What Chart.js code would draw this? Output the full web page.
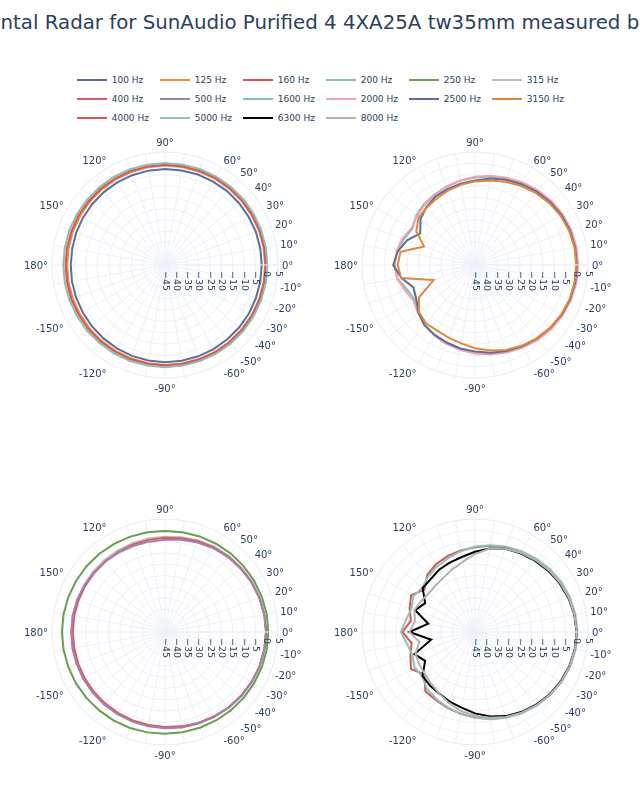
<!DOCTYPE html>
<html>
<head>
<meta charset="utf-8">
<script src="https://cdn.jsdelivr.net/npm/chart.js@4.4.1/dist/chart.umd.min.js"></script>
<style>
html,body{margin:0;padding:0;background:#fff;}
#page{position:relative;width:640px;height:800px;overflow:hidden;font-family:"DejaVu Sans",Verdana,sans-serif;color:#2a3f5f;}
#title{position:absolute;top:11px;left:0;white-space:nowrap;font-size:19.8px;line-height:normal;}
.leg{position:absolute;height:12px;width:80px;}
.leg .sw{position:absolute;left:0;top:5px;width:30px;height:2px;}
.leg .tx{position:absolute;left:35px;top:0;font-size:9px;line-height:12px;white-space:nowrap;}
canvas{position:absolute;}
</style>
</head>
<body>
<div id="page">
  <div id="title"></div>
  <div id="legend"></div>
  <canvas id="c0" width="300" height="300"></canvas>
  <canvas id="c1" width="300" height="300"></canvas>
  <canvas id="c2" width="300" height="300"></canvas>
  <canvas id="c3" width="300" height="300"></canvas>
</div>
<script>
// ---------------- data ----------------
const TITLE = 'Horizontal Radar for SunAudio Purified 4 4XA25A tw35mm measured by Misc';
const ANGLES = [0,10,20,30,40,50,60,70,80,90,100,110,120,130,140,150,160,170,180,
                -170,-160,-150,-140,-130,-120,-110,-100,-90,-80,-70,-60,-50,-40,-30,-20,-10];
const ANGLE_TICKS = [0,10,20,30,40,50,60,90,120,150,180,-150,-120,-90,-60,-50,-40,-30,-20,-10];
const RADIAL_MIN = -45;
const RADIAL_MAX = 5;
const RADIAL_STEP = 5;

const FREQS = ['100 Hz','125 Hz','160 Hz','200 Hz','250 Hz','315 Hz',
               '400 Hz','500 Hz','1600 Hz','2000 Hz','2500 Hz','3150 Hz',
               '4000 Hz','5000 Hz','6300 Hz','8000 Hz'];
const COLORS = ['#5a6ea3','#e8913a','#d6545a','#8fbcae','#6a9f4e','#bcbcbc',
                '#d65c66','#a77fa9','#7fc2b3','#f2a3b3','#5d6f97','#e0873a',
                '#d05858','#93c1b4','#000000','#b3b3b3'];

// top-left
const hz100 = [-2.2,-2.2,-2.2,-2.3,-2.3,-2.3,-2.4,-2.4,-2.5,-2.5,-2.6,-2.7,-2.8,-2.9,-3.0,-3.1,-3.2,-3.3,-3.3,
               -3.2,-3.1,-3.0,-2.8,-2.6,-2.4,-2.2,-2.1,-2.0,-2.0,-2.0,-2.0,-2.1,-2.1,-2.1,-2.2,-2.2];
const hz125 = [-0.7,-0.7,-0.7,-0.8,-0.8,-0.9,-0.9,-1.0,-1.0,-1.0,-1.1,-1.2,-1.3,-1.4,-1.5,-1.6,-1.6,-1.7,-1.7,
               -1.6,-1.6,-1.5,-1.4,-1.2,-1.1,-1.0,-0.9,-0.8,-0.8,-0.7,-0.7,-0.7,-0.7,-0.7,-0.7,-0.7];
const hz160 = [-0.4,-0.4,-0.4,-0.4,-0.5,-0.5,-0.5,-0.6,-0.6,-0.6,-0.7,-0.7,-0.8,-0.8,-0.9,-0.9,-1.0,-1.0,-1.0,
               -1.0,-0.9,-0.9,-0.8,-0.8,-0.7,-0.6,-0.6,-0.5,-0.5,-0.5,-0.4,-0.4,-0.4,-0.4,-0.4,-0.4];
const hz200 = [0.3,0.3,0.3,0.3,0.3,0.2,0.2,0.2,0.1,0.1,0.1,0.1,0.1,0.0,0.0,0.0,0.0,0.0,0.0,
               0.0,0.0,0.0,0.1,0.1,0.1,0.2,0.2,0.2,0.2,0.2,0.3,0.3,0.3,0.3,0.3,0.3];
// bottom-left
const hz250 = [0.7,0.7,0.6,0.5,0.4,0.3,0.1,0.0,-0.2,-0.3,-0.2,-0.1,0.0,0.2,0.3,0.4,0.5,0.6,0.6,
               0.6,0.5,0.5,0.4,0.3,0.3,0.2,0.1,0.0,0.0,0.1,0.2,0.3,0.4,0.5,0.6,0.7];
const hz315 = [-0.2,-0.2,-0.4,-0.6,-0.9,-1.1,-1.4,-1.9,-2.4,-2.8,-3.0,-3.2,-3.3,-3.4,-3.5,-3.6,-3.6,-3.6,-3.6,
               -3.6,-3.5,-3.4,-3.3,-3.2,-3.0,-2.9,-2.8,-2.6,-2.3,-1.9,-1.5,-1.1,-0.8,-0.6,-0.4,-0.2];
const hz400 = [-0.3,-0.4,-0.6,-0.8,-1.1,-1.4,-1.8,-2.3,-2.9,-3.3,-3.6,-3.8,-4.0,-4.1,-4.2,-4.2,-4.2,-4.2,-4.2,
               -4.2,-4.1,-4.0,-3.9,-3.8,-3.6,-3.4,-3.2,-3.0,-2.6,-2.2,-1.8,-1.4,-1.1,-0.8,-0.5,-0.4];
const hz500 = [-0.3,-0.4,-0.6,-0.9,-1.3,-1.7,-2.2,-2.9,-3.6,-4.2,-4.4,-4.4,-4.3,-4.1,-3.9,-3.8,-3.6,-3.5,-3.5,
               -3.4,-3.4,-3.3,-3.2,-3.1,-3.0,-2.8,-2.6,-2.4,-2.1,-1.9,-1.6,-1.3,-1.0,-0.7,-0.5,-0.4];
// top-right
const hz1600 = [0.3,0.3,0.0,-0.5,-1.2,-2.1,-3.1,-4.2,-5.2,-6.3,-7.2,-8.2,-9.0,-9.8,-11.0,-13.0,-11.5,-10.0,-9.3,
                -10.2,-13.0,-14.2,-12.5,-10.5,-9.0,-7.9,-7.0,-6.0,-5.0,-4.0,-3.0,-2.0,-1.2,-0.5,0.0,0.3];
const hz2000 = [0.7,0.6,0.3,-0.2,-0.9,-1.8,-2.8,-3.9,-4.9,-5.9,-7.0,-8.0,-9.2,-10.2,-11.5,-12.5,-10.8,-9.8,-9.5,
                -10.0,-12.0,-13.5,-12.0,-10.2,-9.0,-8.0,-6.9,-5.8,-4.8,-3.8,-2.8,-1.8,-1.0,-0.3,0.2,0.6];
const hz2500 = [0.0,0.0,-0.3,-0.8,-1.6,-2.6,-3.7,-4.9,-6.1,-7.6,-8.5,-9.3,-10.0,-11.5,-13.5,-17.0,-13.0,-10.3,-8.8,
                -12.0,-16.0,-15.0,-12.3,-10.2,-9.3,-8.5,-7.5,-6.7,-5.6,-4.5,-3.5,-2.5,-1.6,-0.8,-0.3,0.0];
const hz3150 = [-0.2,-0.3,-0.7,-1.3,-2.2,-3.3,-4.5,-5.8,-7.0,-8.0,-9.0,-10.0,-11.0,-11.8,-12.4,-15.0,-21.0,-11.5,-10.8,
                -11.8,-25.5,-16.4,-12.6,-11.3,-11.5,-10.8,-9.8,-8.2,-6.6,-5.0,-3.7,-2.6,-1.7,-1.0,-0.5,-0.3];
// bottom-right
const hz4000 = [0.0,-0.2,-0.6,-1.2,-2.0,-3.0,-4.0,-5.0,-6.3,-7.5,-8.4,-9.3,-10.4,-12.1,-15.8,-12.4,-14.2,-16.2,-12.9,
                -16.5,-14.6,-12.3,-15.8,-10.8,-10.3,-9.3,-8.3,-7.2,-6.0,-4.8,-3.7,-2.7,-1.8,-1.1,-0.5,-0.1];
const hz5000 = [0.3,0.1,-0.3,-0.9,-1.7,-2.7,-3.7,-4.8,-6.0,-7.2,-8.7,-10.2,-11.5,-12.8,-14.5,-13.5,-15.0,-14.0,-12.2,
                -14.5,-15.5,-14.0,-14.5,-12.0,-10.8,-9.5,-8.2,-7.0,-5.8,-4.6,-3.5,-2.5,-1.6,-0.8,-0.2,0.2];
const hz6300 = [0.0,-0.4,-1.0,-1.8,-2.8,-3.8,-4.8,-5.8,-7.5,-9.5,-11.3,-12.3,-13.2,-14.5,-14.8,-19.5,-16.8,-24.0,-16.0,
                -25.3,-16.5,-19.5,-14.7,-14.0,-13.5,-12.2,-11.0,-9.0,-7.0,-5.4,-4.1,-3.0,-2.0,-1.2,-0.6,-0.2];
const hz8000 = [0.0,-0.3,-0.8,-1.5,-2.4,-3.4,-4.5,-5.8,-7.5,-10.5,-13.5,-15.5,-17.2,-18.0,-18.3,-17.5,-16.5,-18.0,-16.0,
                -20.0,-17.0,-16.5,-16.0,-15.0,-13.5,-11.5,-9.5,-8.0,-6.5,-5.0,-3.8,-2.7,-1.8,-1.0,-0.5,-0.1];

const SERIES = {'100 Hz':hz100,'125 Hz':hz125,'160 Hz':hz160,'200 Hz':hz200,
                '250 Hz':hz250,'315 Hz':hz315,'400 Hz':hz400,'500 Hz':hz500,
                '1600 Hz':hz1600,'2000 Hz':hz2000,'2500 Hz':hz2500,'3150 Hz':hz3150,
                '4000 Hz':hz4000,'5000 Hz':hz5000,'6300 Hz':hz6300,'8000 Hz':hz8000};
const SUBPLOTS = [
  ['100 Hz','125 Hz','160 Hz','200 Hz'],
  ['1600 Hz','2000 Hz','2500 Hz','3150 Hz'],
  ['250 Hz','315 Hz','400 Hz','500 Hz'],
  ['4000 Hz','5000 Hz','6300 Hz','8000 Hz']
];

// ---------------- layout ----------------
const FONT = '"DejaVu Sans", Verdana, sans-serif';
const TEXT = '#2a3f5f';
const GRID = '#ebf0f8';
const CENTERS = [[165,265],[475,265],[165,632],[475,632]];
const CANVAS = 300, RADIUS = 113;

(function(){
  const t = document.getElementById('title');
  t.textContent = TITLE;
  const m = document.createElement('canvas').getContext('2d');
  m.font = '19.8px ' + FONT;
  const w = m.measureText('Horizo').width;
  t.style.left = (0.5 - w) + 'px';
})();

(function(){
  const leg = document.getElementById('legend');
  const rowsY = [74.2, 92.6, 111.6];
  FREQS.forEach((name, i) => {
    const col = i % 6, row = Math.floor(i / 6);
    const d = document.createElement('div');
    d.className = 'leg';
    d.style.left = (76.7 + 83 * col) + 'px';
    d.style.top = rowsY[row] + 'px';
    const sw = document.createElement('div');
    sw.className = 'sw';
    sw.style.background = COLORS[i];
    const tx = document.createElement('div');
    tx.className = 'tx';
    tx.textContent = name;
    d.appendChild(sw); d.appendChild(tx);
    leg.appendChild(d);
  });
})();

function chartAngle(i){ let a = -10 * i; while (a <= -180) a += 360; return a; }
function chartIndex(a){ return ((Math.round(-a / 10) % 36) + 36) % 36; }
const CHART_LABELS = Array.from({length: 36}, (_, i) => chartAngle(i) + '°');

function radialText(v){ return v < 0 ? '\u2212' + Math.abs(v) : String(v); }

const polarText = {
  id: 'polarText',
  afterDatasetsDraw(chart) {
    const s = chart.scales.r;
    const ctx = chart.ctx;
    const R = s.drawingArea;
    ctx.save();
    ctx.strokeStyle = GRID; ctx.lineWidth = 1;
    const end = s.getPointPositionForValue(0, s.max);
    ctx.beginPath(); ctx.moveTo(s.xCenter, s.yCenter); ctx.lineTo(end.x, end.y); ctx.stroke();
    ctx.beginPath(); ctx.arc(s.xCenter, s.yCenter, R, 0, Math.PI * 2); ctx.stroke();
    ctx.fillStyle = TEXT;
    ctx.font = '9.5px ' + FONT;
    s.ticks.forEach(t => {
      const q = s.getPointPositionForValue(0, t.value);
      ctx.save();
      ctx.translate(q.x, q.y + 6);
      ctx.rotate(Math.PI / 2);
      ctx.textAlign = 'left'; ctx.textBaseline = 'middle';
      ctx.fillText(radialText(t.value), 0, 0);
      ctx.restore();
    });
    const FS = 10, PAD = 4;
    ctx.font = FS + 'px ' + FONT;
    ctx.textBaseline = 'alphabetic';
    ANGLE_TICKS.forEach(a => {
      const rad = a * Math.PI / 180;
      const c = Math.cos(rad), sn = Math.sin(rad);
      const p = s.getPointPosition(chartIndex(a), R + PAD);
      const ff = sn > 0 ? 0.2 : 1;
      const dy = -sn * FS * ff + Math.abs(c) * FS * 0.35;
      ctx.textAlign = Math.abs(c) < 0.1 ? 'center' : (c > 0 ? 'left' : 'right');
      ctx.fillText(a + '°', p.x, p.y + dy);
    });
    ctx.restore();
  }
};

SUBPLOTS.forEach((names, k) => {
  const cv = document.getElementById('c' + k);
  cv.style.left = (CENTERS[k][0] - CANVAS / 2) + 'px';
  cv.style.top = (CENTERS[k][1] - CANVAS / 2) + 'px';
  const datasets = names.map((name, j) => {
    const src = SERIES[name];
    return {
      label: name,
      data: CHART_LABELS.map((_, i) => src[ANGLES.indexOf(chartAngle(i))]),
      borderColor: COLORS[FREQS.indexOf(name)],
      backgroundColor: 'rgba(0,0,0,0)',
      borderWidth: 2,
      fill: false,
      pointRadius: 0,
      tension: 0,
      order: names.length - j
    };
  });
  new Chart(cv, {
    type: 'radar',
    data: { labels: CHART_LABELS, datasets },
    options: {
      responsive: false,
      animation: false,
      devicePixelRatio: 1,
      layout: { padding: CANVAS / 2 - RADIUS },
      plugins: { legend: { display: false }, tooltip: { enabled: false } },
      scales: {
        r: {
          min: RADIAL_MIN, max: RADIAL_MAX, startAngle: 90,
          ticks: { display: false, stepSize: RADIAL_STEP },
          grid: { circular: true, color: GRID, lineWidth: 1 },
          angleLines: { display: true, color: GRID, lineWidth: 1 },
          pointLabels: { display: false }
        }
      }
    },
    plugins: [polarText]
  });
});
</script>
</body>
</html>
